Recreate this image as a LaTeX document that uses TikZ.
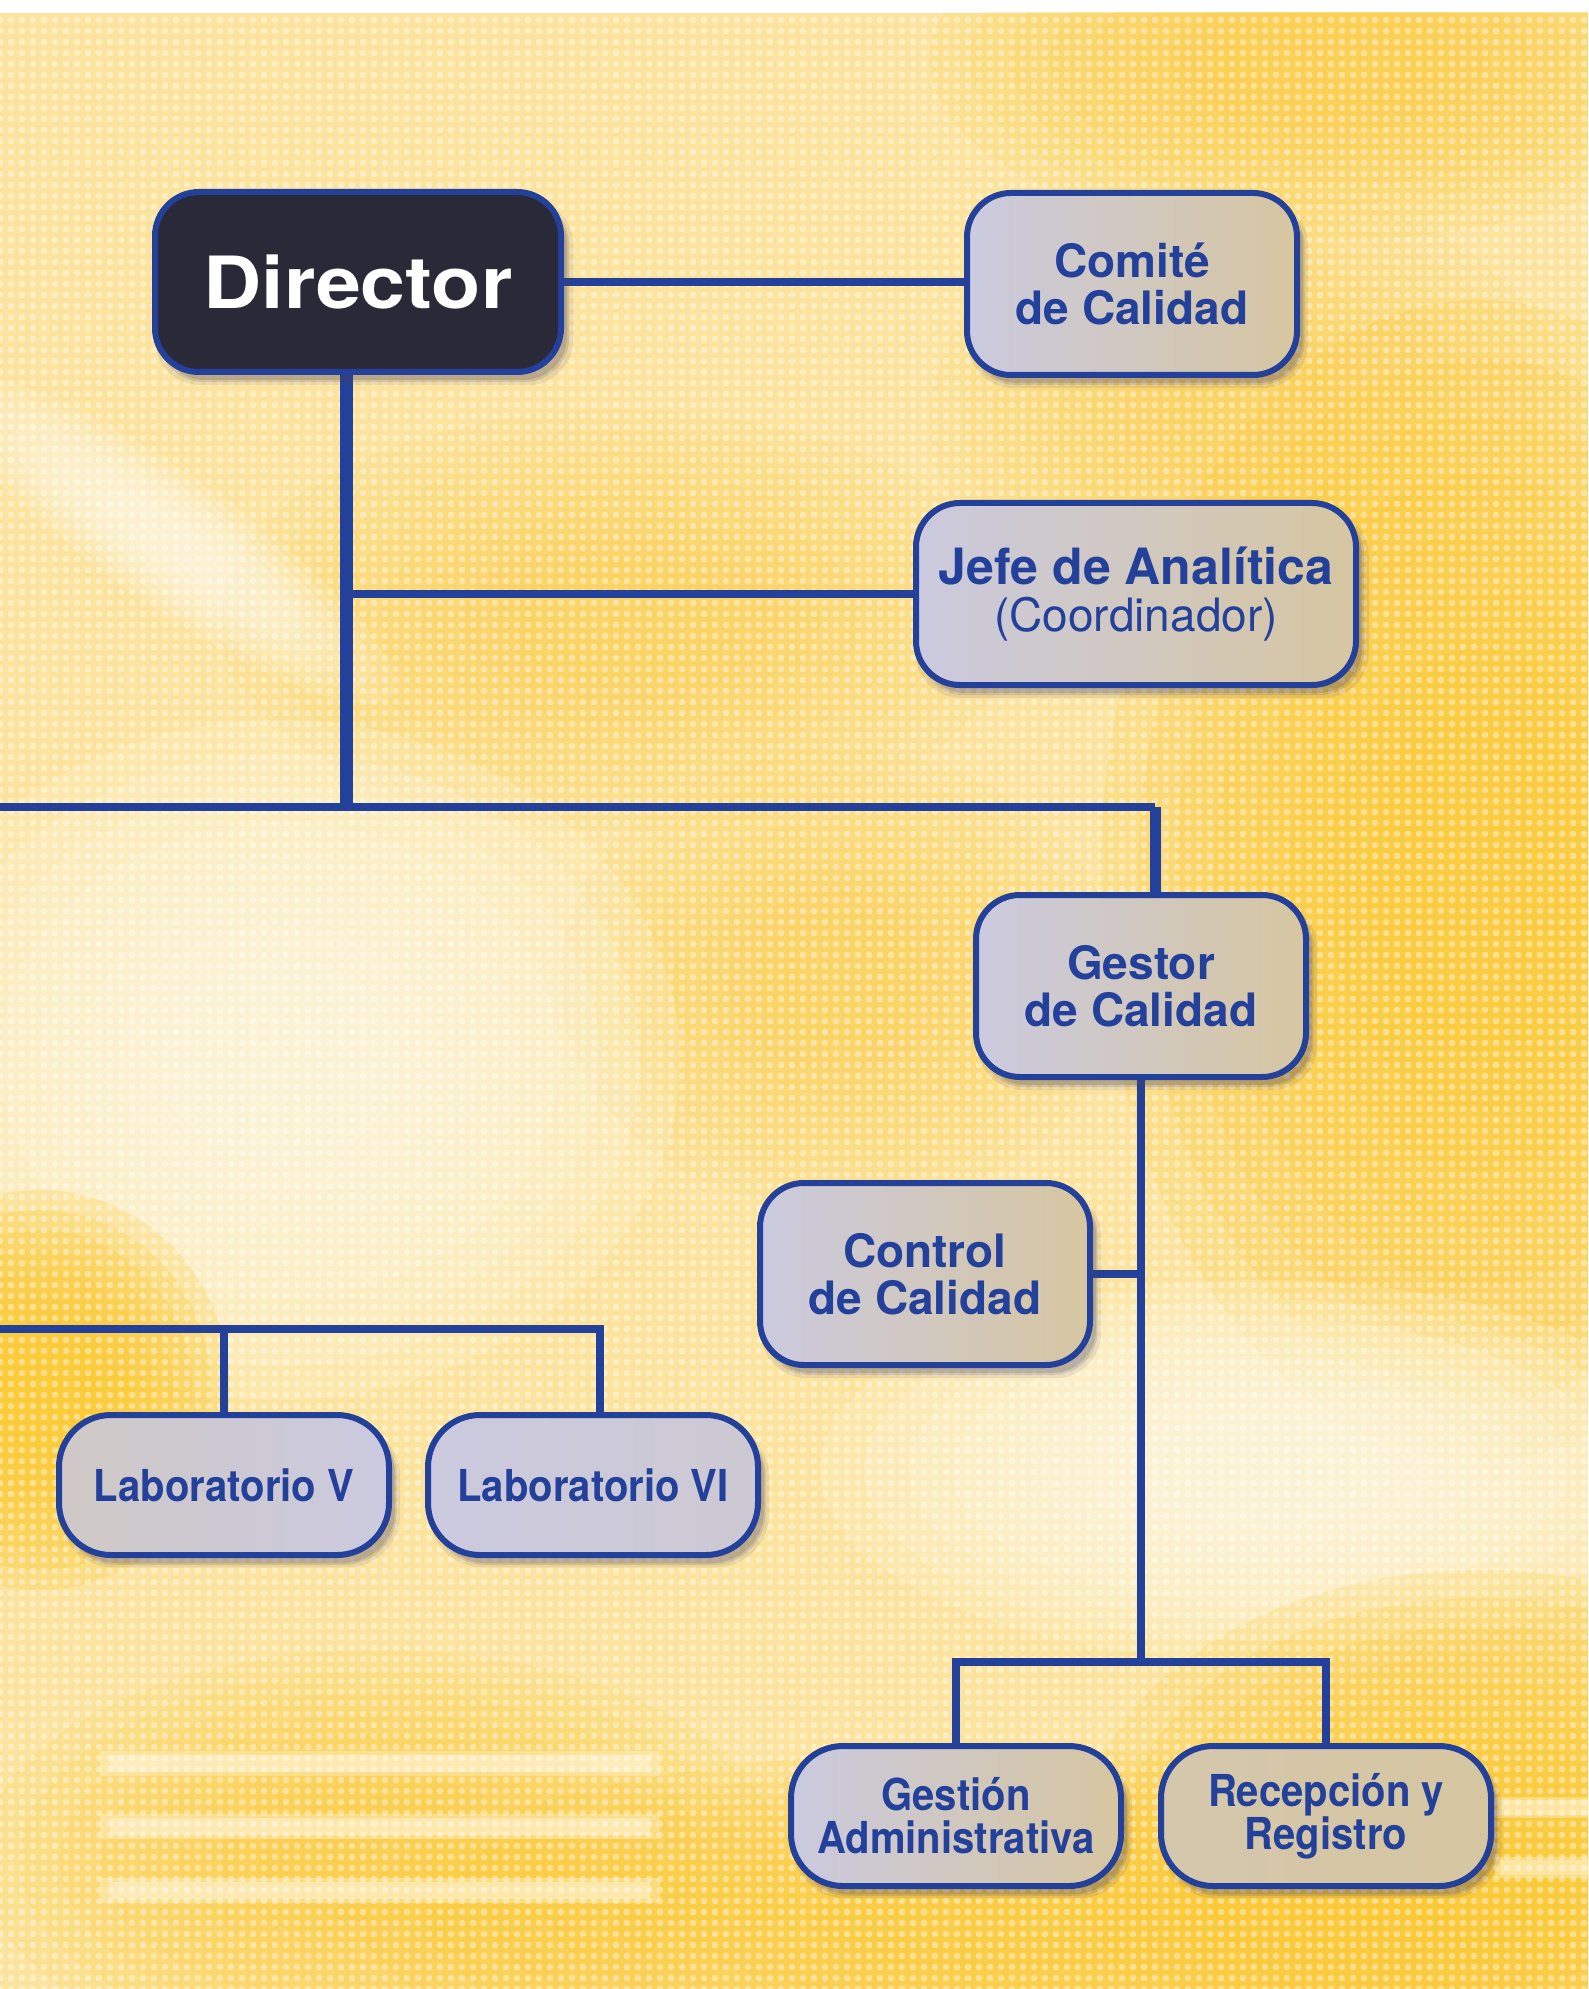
\documentclass[tikz,border=0pt]{standalone}
\usepackage{fontspec}
\setmainfont{TeX Gyre Heros}
\newfontfamily\condfont[FakeStretch=0.91]{TeX Gyre Heros}
\newfontfamily\widefont[FakeStretch=1.12]{TeX Gyre Heros}
\usetikzlibrary{shadows,patterns.meta}

\definecolor{navy}{HTML}{23409A}
\definecolor{boxl}{HTML}{CBCADF}
\definecolor{boxr}{HTML}{D6C6A0}
\definecolor{dirfill}{HTML}{2A2938}
\definecolor{ybase}{HTML}{FCE49E}
\definecolor{ysat}{HTML}{FBC930}
\definecolor{ypale}{HTML}{FFF8E2}
\definecolor{shcol}{HTML}{4A4060}

\pgfdeclarelayer{back}
\pgfdeclarelayer{lines}
\pgfsetlayers{back,lines,main}

\tikzdeclarepattern{
  name=halftone,
  type=uncolored,
  bottom left={(-2.75pt,-2.75pt)},
  top right={(2.75pt,2.75pt)},
  tile size={(5.5pt,5.5pt)},
  code={\pgfpathcircle{\pgfpointorigin}{1.7pt}\pgfusepath{fill}}
}

\newcommand\myblob[6]{%
  \foreach \s in {1,0.9,0.8,0.7,0.6,0.5,0.4,0.3}{%
    \fill[#5, opacity=#6] (#1,#2) ellipse [x radius=\s*#3, y radius=\s*#4];}}

\tikzset{
  shadowed/.style={
    general shadow={fill=shcol, opacity=0.10, shadow xshift=3pt, shadow yshift=-5pt, shadow scale=1.03},
    general shadow={fill=shcol, opacity=0.14, shadow xshift=3pt, shadow yshift=-4.5pt, shadow scale=1.01},
    general shadow={fill=shcol, opacity=0.18, shadow xshift=3pt, shadow yshift=-4pt}},
  box/.style={shadowed, draw=navy, line width=3pt, rounded corners=22pt,
    left color=boxl, right color=boxr, text=navy, align=center, inner sep=0pt,
    minimum width=165pt, minimum height=91pt,
    font=\bfseries\fontsize{23}{23.5}\selectfont},
  lbox/.style={box, minimum height=70pt, rounded corners=26pt,
    font=\condfont\bfseries\fontsize{22}{21.5}\selectfont},
  dirbox/.style={shadowed, draw=navy, line width=3pt, rounded corners=22pt,
    fill=dirfill, text=white, inner sep=0pt, minimum width=203pt, minimum height=90pt,
    font=\widefont\bfseries\fontsize{36}{40}\selectfont},
  conn/.style={draw=navy, line width=4pt}
}

\begin{document}
\begin{tikzpicture}[x=0.5pt,y=-0.5pt]
\useasboundingbox (0,0) rectangle (1588,1989);

% ---------- background ----------
\begin{pgfonlayer}{back}
\fill[white] (0,0) rectangle (1588,1989);
\begin{scope}
\clip (0,13) rectangle (1588,1989);
\fill[ybase] (0,13) rectangle (1588,1989);
\myblob{1480}{880}{380}{580}{ysat}{0.2}
\myblob{1330}{60}{400}{180}{ysat}{0.12}
\myblob{1250}{420}{320}{230}{ysat}{0.08}
\myblob{620}{620}{400}{210}{ysat}{0.08}
\myblob{840}{980}{280}{230}{ysat}{0.08}
\myblob{280}{1060}{400}{340}{ypale}{0.2}
\begin{scope}[rotate around={-35:(170,540)}]
\myblob{170}{540}{270}{65}{ypale}{0.17}
\end{scope}
\myblob{1260}{1470}{440}{190}{ypale}{0.2}
\myblob{40}{1390}{190}{200}{ysat}{0.24}
\myblob{1480}{1850}{400}{280}{ysat}{0.2}
\myblob{1000}{1920}{640}{170}{ysat}{0.17}
\myblob{380}{1860}{400}{210}{ysat}{0.13}
\foreach \yy in {1755,1818,1882}{
  \fill[ypale, opacity=0.35] (100,\yy-4) rectangle (660,\yy+21);
  \fill[ypale, opacity=0.45] (110,\yy) rectangle (650,\yy+17);}
\foreach \yy in {1800,1860}{
  \fill[ypale, opacity=0.35] (1495,\yy-3) rectangle (1588,\yy+18);
  \fill[ypale, opacity=0.4] (1500,\yy) rectangle (1588,\yy+15);}
\fill[pattern=halftone, pattern color=white, opacity=0.4] (0,13) rectangle (1588,1989);
\end{scope}
\end{pgfonlayer}

% ---------- nodes ----------
\node[dirbox] (dir) at (358,282) {Director};
\node[box] (com) at (1132,284) {Comité\\de Calidad};
\node[box, minimum width=220pt] (jefe) at (1136,594)
  {{\fontsize{25}{25}\selectfont Jefe de Analítica}\\{\mdseries (Coordinador)}};
\node[box] (ges) at (1141,986) {Gestor\\de Calidad};
\node[box] (ctl) at (925,1274) {Control\\de Calidad};
\node[lbox, left color=boxl!60!boxr, right color=boxl] (lab5) at (224,1485) {Laboratorio V};
\node[lbox, right color=boxl!80!boxr] (lab6) at (593,1485) {Laboratorio VI};
\node[lbox] (gadm) at (956,1816) {Gestión\\Administrativa};
\node[lbox, left color=boxr!80!boxl] (rec) at (1326,1816) {Recepción y\\Registro};

% ---------- connectors ----------
\coordinate (hbar) at (0,807);
\coordinate (labbar) at (0,1329);
\coordinate (lowbar) at (0,1662);
\begin{pgfonlayer}{lines}
\draw[conn] (dir.east) -- (dir.east -| com.west);
\draw[conn, line width=6.5pt] ([xshift=-6pt]dir.south) -- ([xshift=-6pt]dir.south |- hbar);
\draw[conn] ([xshift=-6pt]dir.south |- jefe.west) -- (jefe.west);
\draw[conn] (hbar) -- ([xshift=7pt]ges.north |- hbar);
\draw[conn, line width=5.5pt] ([xshift=7pt]ges.north |- hbar) -- ([xshift=7pt]ges.north);
\draw[conn] (ges.south) -- (ges.south |- lowbar);
\draw[conn] (ctl.east) -- (ctl.east -| ges.south);
\draw[conn] (gadm.north) -- (gadm.north |- lowbar) -- (rec.north |- lowbar) -- (rec.north);
\draw[conn] (labbar) -| ([xshift=3.5pt]lab6.north);
\draw[conn] (lab5.north) -- (lab5.north |- labbar);
\end{pgfonlayer}
\end{tikzpicture}
\end{document}
